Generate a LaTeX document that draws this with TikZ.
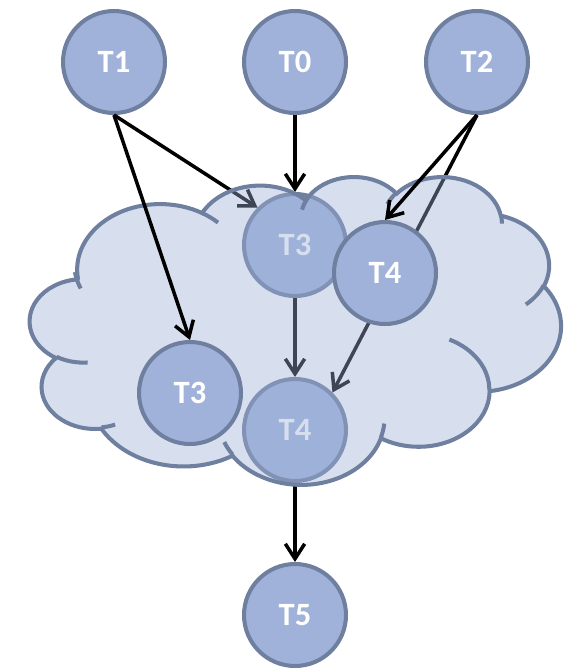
\documentclass[tikz,border=0pt]{standalone}
\usepackage{fontspec}
\setmainfont{Carlito}
\usetikzlibrary{arrows.meta}
\definecolor{taskfill}{HTML}{A0B2D9}
\definecolor{taskline}{HTML}{6F7FA0}
\definecolor{cloudfill}{HTML}{9CB0D7}
\tikzset{
  puff/.style n args={4}{x radius=#1, y radius=#2,
    start angle={atan2(sin(#3)*#1,cos(#3)*#2)},
    delta angle={Mod(atan2(sin(#3+#4)*#1,cos(#3+#4)*#2)-atan2(sin(#3)*#1,cos(#3)*#2),360)}}
}
\begin{document}
\begin{tikzpicture}[x=0.02cm, y=-0.02cm,
    task/.style={draw=taskline, fill=taskfill, circle, line width=2.3pt, minimum size=2.04cm, inner sep=0pt, text=white, font=\bfseries\fontsize{18.5}{20}\selectfont},
    link/.style={line width=2pt, -{Straight Barb[length=8.5pt,width=11pt]}},
    cloudline/.style={draw=taskline, line width=2.3pt}]
    \useasboundingbox (0,0) rectangle (572,670);

    % Top row
    \node[task] (t1) at (114,62) {T1};
    \node[task] (t0) at (295,62) {T0};
    \node[task] (t2) at (477,62) {T2};

    % Tasks behind the cloud
    \node[task] (t3back) at (295,245) {T3};
    \node[task] (t4back) at (295,430) {T4};
    \node[task] (t5) at (295,615) {T5};

    \draw[link] (t1.south) -- (t3back.north west);
    \draw[link] (t0) -- (t3back);
    \draw[link] (t2.south) -- (t4back.north east);
    \draw[link] (t3back) -- (t4back);
    \draw[link] (t4back) -- (t5);

    % Cloud
    \begin{scope}[shift={(30,176)}, x=0.024583cm, y=-0.014259cm]
      \path[cloudline, fill=cloudfill, fill opacity=0.4] (39.00,143.70)
        arc[puff={67.53}{91.90}{-190.488}{123.781}]
        arc[puff={53.33}{72.67}{-144.102}{89.945}]
        arc[puff={43.65}{59.45}{-145.808}{99.723}]
        arc[puff={48.57}{65.95}{-130.986}{117.242}]
        arc[puff={53.33}{72.73}{-78.709}{109.027}]
        arc[puff={67.75}{92.20}{-46.267}{130.269}]
        arc[puff={57.85}{78.67}{0.625}{114.033}]
        arc[puff={67.52}{92.15}{22.452}{115.173}]
        arc[puff={77.20}{105.43}{66.243}{75.711}]
        arc[puff={43.60}{59.18}{-274.942}{146.736}]
        arc[puff={43.45}{59.45}{-246.829}{152.519}]
        -- cycle;
      \draw[cloudline]
        (46.93,261.77) arc[puff={43.45}{59.45}{86.742}{26.430}]
        (69.28,348.99) arc[puff={43.60}{59.18}{73.611}{11.448}]
        (164.78,390.90) arc[puff={67.52}{92.15}{137.624}{14.081}]
        (288.27,347.51) arc[puff={67.52}{92.15}{6.453}{15.998}]
        (341.29,229.54) arc[puff={57.85}{78.67}{-70.292}{70.917}]
        (417.98,153.54) arc[puff={53.33}{72.73}{30.318}{27.752}]
        (383.24,54.26) arc[puff={48.57}{65.95}{-13.744}{14.859}]
        (290.78,39.52) arc[puff={48.57}{65.95}{-149.182}{18.195}]
        (221.41,47.20) arc[puff={43.65}{59.45}{-163.494}{17.686}]
        (140.00,51.92) arc[puff={67.53}{91.90}{-66.707}{12.319}]
        (41.27,157.89) arc[puff={67.53}{91.90}{150}{19.094}];
    \end{scope}

    % Tasks in front of the cloud
    \node[task] (t3) at (190,393) {T3};
    \node[task] (t4) at (385,273) {T4};
    \draw[link] (t1.south) -- (t3.north);
    \draw[link] (t2.south) -- (t4.north);
\end{tikzpicture}
\end{document}
